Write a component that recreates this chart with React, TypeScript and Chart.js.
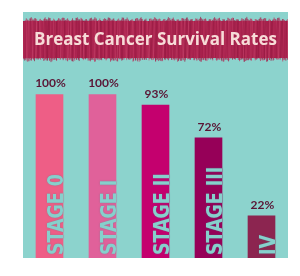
import React, { useEffect, useRef } from "react";
import { Chart, registerables } from "chart.js";

Chart.register(...registerables);

const categories = ["STAGE 0", "STAGE I", "STAGE II", "STAGE III", "IV"];
const survivalRates = [100, 100, 93, 72, 22];
const valueLabels = ["100%", "100%", "93%", "72%", "22%"];
const titleText = "Breast Cancer Survival Rates";

const barColors = ["#ee5e86", "#e0619a", "#c4006e", "#960058", "#8c2550"];
const panelColor = "#8cd3cd";
const stageTextColor = "#86d0cc";
const valueTextColor = "#5a1535";
const titleColor = "#f7dcd8";

const Y_MIN = -5;
const Y_MAX = 100;

const backgroundPlugin = {
  id: "panelBanner",
  beforeDraw(chart: any) {
    const { ctx, width, height } = chart;
    ctx.save();
    ctx.fillStyle = panelColor;
    ctx.fillRect(0, 0, width, height);
    // scribbled banner behind the title
    const shades = ["#a51f4b", "#b8305a", "#941a42", "#c6456b", "#ab2550", "#9c1d46", "#b22a55"];
    ctx.fillStyle = "#a8224d";
    ctx.fillRect(0, 9, width, 37);
    ctx.lineWidth = 1;
    let k = 0;
    for (let x = 0.5; x < width; x += 0.7) {
      const top = 7.5 + 1.2 * Math.sin(x * 1.37) + 0.9 * Math.sin(x * 0.41 + 1) + 0.6 * Math.sin(x * 5.3);
      const bot = 47.5 + 1.2 * Math.sin(x * 1.13 + 2) + 0.9 * Math.sin(x * 0.29) + 0.6 * Math.sin(x * 4.7);
      ctx.strokeStyle = shades[k % shades.length];
      ctx.globalAlpha = 0.7;
      ctx.beginPath();
      ctx.moveTo(x, top);
      ctx.lineTo(x + Math.sin(x * 3.1) * 1.2, bot);
      ctx.stroke();
      k += 1 + (Math.floor(x * 7) % 3);
    }
    ctx.restore();
  },
};

const labelPlugin = {
  id: "barLabels",
  afterDatasetsDraw(chart: any) {
    const { ctx } = chart;
    const meta = chart.getDatasetMeta(0);
    ctx.save();
    // value labels above bars
    ctx.fillStyle = valueTextColor;
    ctx.font = "bold 12px Lato, 'Open Sans', sans-serif";
    ctx.textAlign = "center";
    ctx.textBaseline = "middle";
    meta.data.forEach((bar: any, i: number) => {
      ctx.fillText(valueLabels[i], bar.x + 1, bar.y - 11);
    });
    // rotated stage names inside bars
    ctx.font = "bold 22px 'Liberation Sans Narrow', 'DejaVu Sans Condensed', 'Liberation Sans', sans-serif";
    const ref = ctx.measureText("STAGE 0").width;
    const sx = 81 / ref;
    ctx.fillStyle = stageTextColor;
    ctx.textAlign = "left";
    ctx.textBaseline = "alphabetic";
    meta.data.forEach((bar: any, i: number) => {
      const right = bar.x + bar.width / 2 - 0.5;
      ctx.save();
      ctx.translate(right, chart.chartArea.bottom - 3);
      ctx.rotate(-Math.PI / 2);
      ctx.scale(sx, 1);
      ctx.shadowColor = "rgba(60,140,140,0.6)";
      ctx.shadowBlur = 1.5;
      ctx.fillText(categories[i], 0, 0);
      ctx.restore();
    });
    ctx.restore();
  },
};

export default function App() {
  const canvasRef = useRef<HTMLCanvasElement | null>(null);

  useEffect(() => {
    const canvas = canvasRef.current;
    if (!canvas) return;
    const chart = new Chart(canvas, {
      type: "bar",
      data: {
        labels: categories,
        datasets: [
          {
            data: survivalRates,
            backgroundColor: barColors,
            borderWidth: 0,
            barThickness: 27,
            base: Y_MIN,
          } as any,
        ],
      },
      options: {
        responsive: false,
        maintainAspectRatio: false,
        animation: false,
        layout: { padding: 0 },
        plugins: {
          legend: { display: false },
          tooltip: { enabled: false },
          title: {
            display: true,
            text: titleText,
            color: titleColor,
            font: { family: "'Open Sans', sans-serif", size: 17, weight: "bold" },
            padding: { top: 17.8, bottom: 44 },
          },
        },
        scales: {
          x: { display: false },
          y: { display: false, min: Y_MIN, max: Y_MAX },
        },
      },
      plugins: [backgroundPlugin, labelPlugin],
    });
    return () => chart.destroy();
  }, []);

  return (
    <div style={{ position: "absolute", left: 23, top: 12, width: 265, height: 246 }}>
      <canvas ref={canvasRef} width={265} height={246} style={{ width: 265, height: 246, display: "block" }} />
    </div>
  );
}
